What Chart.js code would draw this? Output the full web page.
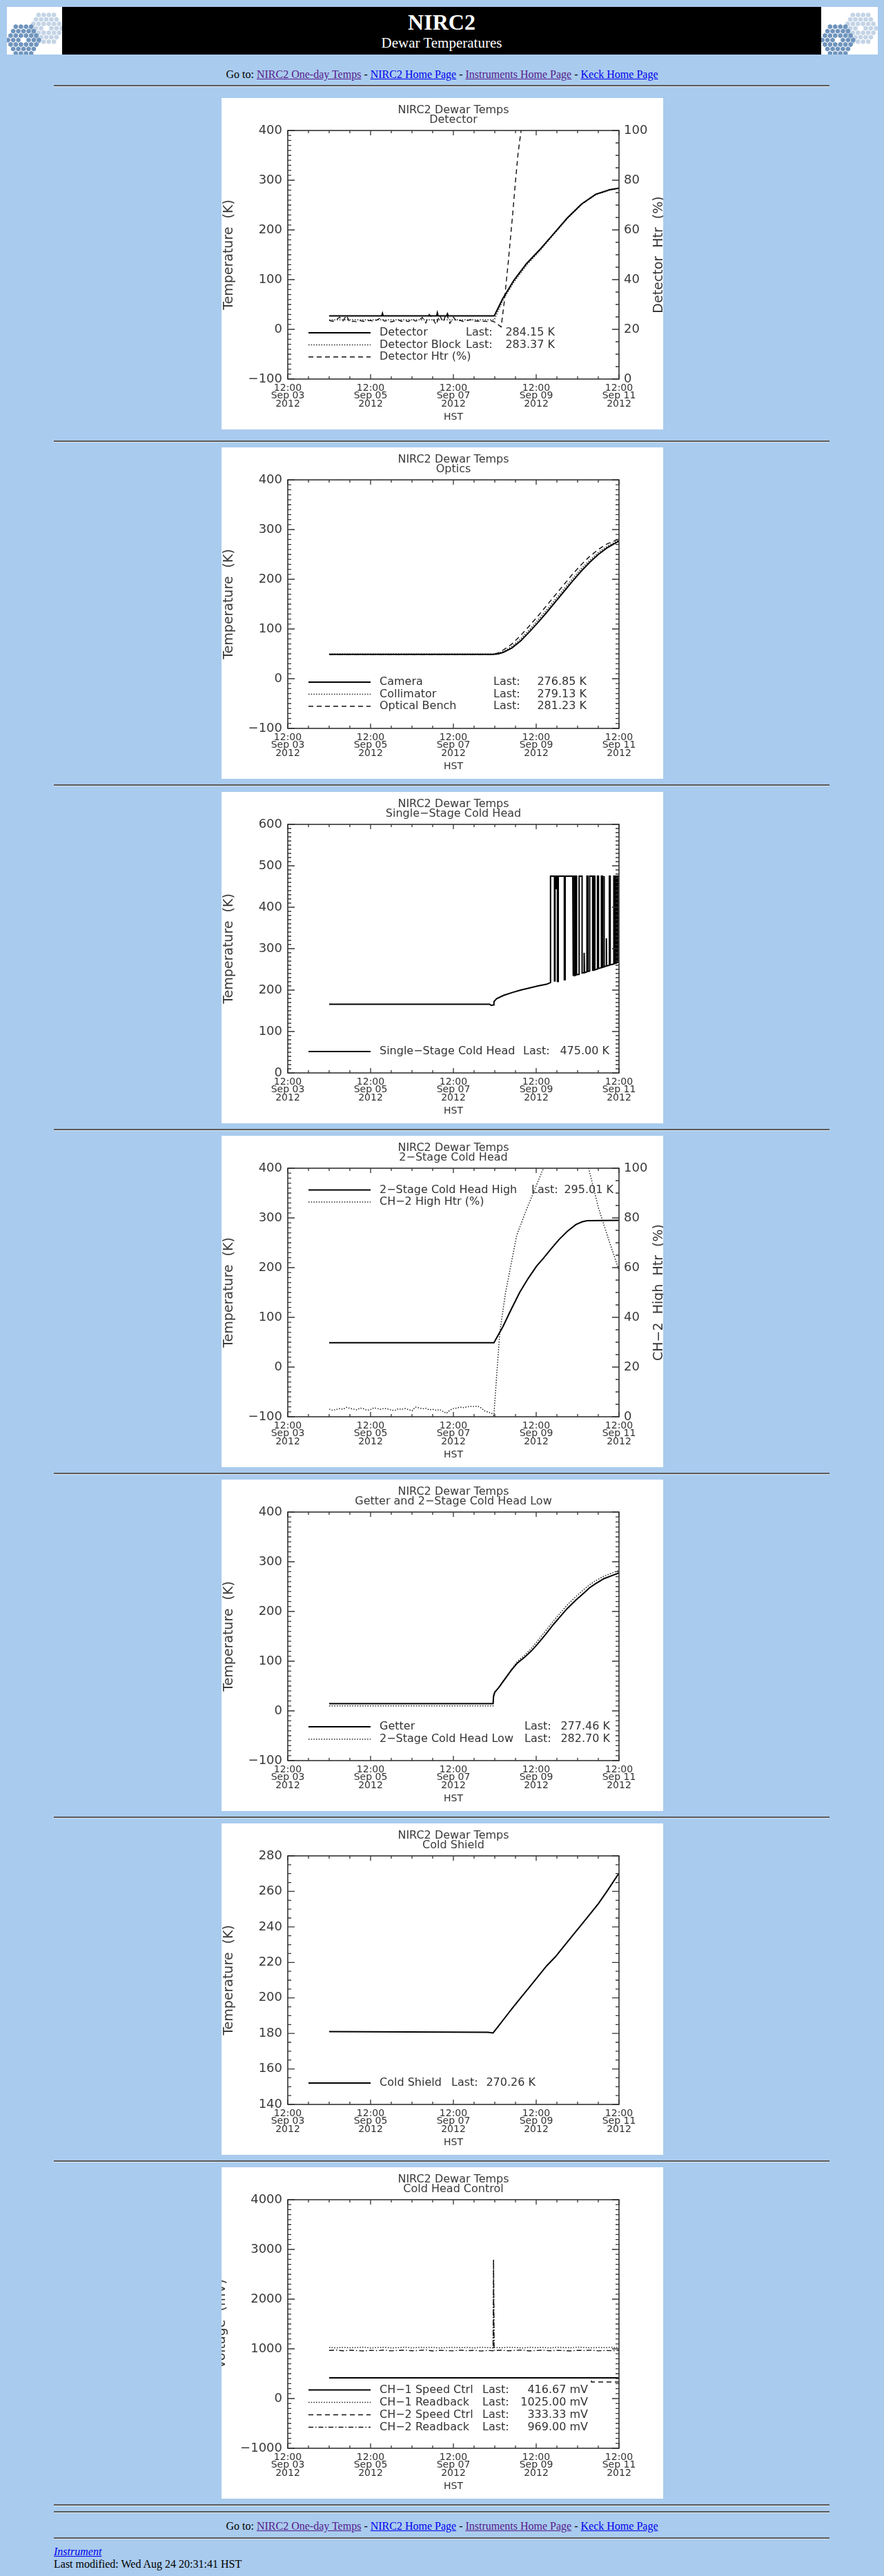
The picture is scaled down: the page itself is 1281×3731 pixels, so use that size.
<!DOCTYPE html>
<html>
<head>
<meta charset="utf-8">
<title>NIRC2 Dewar Temperatures</title>
<script src="https://cdn.jsdelivr.net/npm/chart.js@4.4.0/dist/chart.umd.min.js"></script>
<style>
  html, body { margin: 0; padding: 0; background: #a9cbee; }
  body { font-family: "Liberation Serif", "DejaVu Serif", serif; font-size: 16px; color: #000; }
  #page { position: relative; width: 1281px; height: 3731px; overflow: hidden; }
  .banner { position: absolute; left: 10px; top: 10px; width: 1262px; height: 69px; }
  .logo { position: absolute; top: 0; }
  .black { position: absolute; left: 80px; top: 0; width: 1100px; height: 69px; background: #000; color: #fff; }
  .black div { position: absolute; left: 0; width: 100%; text-align: center; }
  .line { position: absolute; left: 0; width: 1281px; text-align: center; line-height: 18px; white-space: nowrap; }
  .left { position: absolute; left: 78px; line-height: 18px; white-space: nowrap; }
  a { text-decoration: underline; }
  a.v { color: #551a8b; }
  a.n { color: #0000ee; }
  .hr { position: absolute; left: 78px; width: 1124px; height: 0; border-top: 2px solid #5a5a5a; border-bottom: 1px solid #dde6ef; }
  canvas.plot { position: absolute; left: 321px; background: #fff; }
</style>
</head>
<body>
<div id="page">
  <div class="banner">
    <canvas class="logo" id="logoL" width="80" height="69" style="left:0"></canvas>
    <div class="black">
      <div style="top:3px;font-size:32px;font-weight:bold;line-height:38px">NIRC2</div>
      <div style="top:39px;font-size:21px;line-height:26px">Dewar Temperatures</div>
    </div>
    <canvas class="logo" id="logoR" width="82" height="69" style="left:1180px"></canvas>
  </div>

  <div class="line" style="top:99px">Go to: <a class="v" href="#">NIRC2 One-day Temps</a> - <a class="n" href="#">NIRC2 Home Page</a> - <a class="v" href="#">Instruments Home Page</a> - <a class="n" href="#">Keck Home Page</a></div>
  <div class="hr" style="top:123px"></div>

  <canvas class="plot" id="c1" width="640" height="480" style="top:142px"></canvas>
  <div class="hr" style="top:638px"></div>
  <canvas class="plot" id="c2" width="640" height="480" style="top:648px"></canvas>
  <div class="hr" style="top:1136px"></div>
  <canvas class="plot" id="c3" width="640" height="480" style="top:1147px"></canvas>
  <div class="hr" style="top:1635px"></div>
  <canvas class="plot" id="c4" width="640" height="480" style="top:1645px"></canvas>
  <div class="hr" style="top:2133px"></div>
  <canvas class="plot" id="c5" width="640" height="480" style="top:2143px"></canvas>
  <div class="hr" style="top:2631px"></div>
  <canvas class="plot" id="c6" width="640" height="480" style="top:2641px"></canvas>
  <div class="hr" style="top:3129px"></div>
  <canvas class="plot" id="c7" width="640" height="480" style="top:3139px"></canvas>
  <div class="hr" style="top:3627px"></div>
  <div class="hr" style="top:3637px"></div>

  <div class="line" style="top:3650px">Go to: <a class="v" href="#">NIRC2 One-day Temps</a> - <a class="n" href="#">NIRC2 Home Page</a> - <a class="v" href="#">Instruments Home Page</a> - <a class="n" href="#">Keck Home Page</a></div>
  <div class="hr" style="top:3675px"></div>
  <div class="left" style="top:3687px"><a class="n" href="#"><i>Instrument</i></a></div>
  <div class="left" style="top:3705px">Last modified: Wed Aug 24 20:31:41 HST</div>
</div>

<script>
// ---- data (x = hours since 12:00 Sep 03 2012 HST) ----
const xDayLabels = ['Sep 03', 'Sep 05', 'Sep 07', 'Sep 09', 'Sep 11'];

// Detector
const detectorSeries = [[24, 27], [54.5, 27], [54.9, 32], [55.3, 27], [86.3, 27], [86.7, 33], [87.1, 27],
  [92.2, 27], [92.6, 31], [93.0, 27], [119.7, 27], [124.6, 61.7], [131.1, 98.9], [138.4, 132.3], [145.8, 159.3],
  [154.0, 191.8], [162.1, 224.3], [170.3, 252.2], [178.5, 271.7], [186.7, 281.0], [192, 284.15]];
const detBlockSeries = [[24, 19], [119.7, 19], [124.6, 58], [131.1, 95], [138.4, 129], [145.8, 157], [154.0, 190],
  [162.1, 223], [170.3, 251], [178.5, 270.5], [186.7, 280.2], [192, 283.37]];
const detHtrSeries = [[24, 23.6], [26, 23.2], [28, 23.8], [30, 24.9], [32, 23.4], [34, 25.6], [36, 22.8], [38, 23.3],
  [40, 23.0], [42, 23.5], [44, 23.2], [46, 23.4], [48, 23.6], [50, 23.1], [52, 23.9], [54, 24.6], [56, 23.3],
  [58, 23.5], [60, 23.0], [62, 23.4], [64, 23.8], [66, 23.2], [68, 23.5], [70, 23.1], [72, 24.2], [74, 23.3],
  [76, 23.6], [78, 24.8], [80, 22.6], [82, 26.0], [84, 24.4], [86, 21.9], [88, 25.7], [90, 23.0], [92, 26.4],
  [94, 22.4], [96, 24.9], [98, 23.2], [100, 23.6], [102, 23.1], [104, 23.5], [106, 23.9], [108, 23.2], [110, 23.4],
  [112, 23.0], [114, 23.3], [116, 23.1], [118, 23.4], [119.7, 23.0], [123.7, 21],
  [125.4, 30.5], [127.8, 47], [130.3, 65.8], [131.9, 78.8], [133.5, 90.9], [135.2, 99.7], [137, 106], [192, 110]];
const detectorLast = ['284.15 K', '283.37 K', ''];

// Optics
const cameraSeries = [[24, 49], [119, 49], [122, 50], [125, 53], [130, 62], [135, 76], [140, 94], [145, 113],
  [150, 133], [155, 154], [160, 175], [165, 196], [170, 216], [175, 234], [180, 250], [185, 263], [192, 276.85]];
const collimatorSeries = [[24, 49.5], [119, 49.5], [122, 51], [125, 55], [130, 65], [135, 80], [140, 98], [145, 118],
  [150, 138], [155, 159], [160, 180], [165, 201], [170, 221], [175, 238], [180, 254], [185, 266], [192, 279.13]];
const benchSeries = [[24, 49], [119, 49], [122, 52], [125, 58], [130, 70], [135, 87], [140, 106], [145, 126],
  [150, 147], [155, 168], [160, 189], [165, 210], [170, 229], [175, 246], [180, 260], [185, 271], [192, 281.23]];
const opticsLast = ['276.85 K', '279.13 K', '281.23 K'];

// Single-stage cold head
const singleStageSeries = [[24, 166], [117, 166], [118, 163], [119.2, 164], [119.5, 172], [121, 179], [125, 187],
  [130, 194], [135, 200], [140, 205], [145, 210], [150, 214], [152.3, 218],
  [152.3, 475], [154.6, 475], [154.6, 222], [154.9, 222], [154.9, 475], [155.4, 475], [155.4, 445], [155.7, 445],
  [155.7, 475], [156.3, 475], [156.3, 221], [156.8, 221], [156.8, 475], [160.3, 475], [160.3, 225], [160.8, 225],
  [160.8, 475], [165.2, 475], [165.2, 234], [165.6, 234], [165.6, 475], [166.3, 475], [166.3, 235], [167.0, 236],
  [167.0, 475], [167.4, 475], [167.4, 237], [168.9, 238], [168.9, 475], [170.6, 475], [170.6, 241], [171.8, 242],
  [171.8, 290], [172.0, 242], [173.4, 244], [173.4, 475], [174.0, 475], [174.0, 245], [175.0, 246], [175.0, 475],
  [176.7, 475], [176.7, 248], [177.4, 248], [177.4, 475], [178.0, 475], [178.0, 249], [179.5, 251], [179.5, 475],
  [180.1, 475], [180.1, 252], [181.8, 254], [181.8, 475], [182.5, 475], [182.5, 255], [183.2, 256], [183.2, 475],
  [183.5, 475], [183.5, 257], [184.7, 258], [184.7, 325], [184.8, 258], [186.4, 260], [186.4, 475], [186.9, 475],
  [186.9, 261], [189.0, 263], [189.0, 475], [189.6, 475], [189.6, 264], [190.2, 265], [190.2, 475], [190.8, 475],
  [190.8, 266], [191.4, 267], [191.4, 475], [192, 475]];
const singleStageLast = ['475.00 K'];

// 2-stage cold head high
const twoStageHighSeries = [[24, 49], [119.5, 49], [124.6, 80.6], [129.5, 116], [134.4, 150], [139.3, 178],
  [144.2, 203], [148.2, 219], [152.7, 238], [157.2, 256.5], [162, 273], [167, 286.6], [170.5, 292], [173.5, 294.5],
  [192, 295.01]];
const ch2HighHtrSeries = [[24, 3.1], [26, 2.6], [28, 2.9], [30, 3.3], [32, 3.0], [34, 3.8], [36, 3.4], [38, 3.1],
  [40, 2.8], [42, 3.5], [44, 3.2], [46, 2.6], [48, 2.9], [50, 3.6], [52, 3.3], [54, 3.0], [56, 3.4], [58, 3.1],
  [60, 2.7], [62, 2.5], [64, 3.2], [66, 3.0], [68, 3.3], [70, 2.9], [72, 2.4], [74, 3.9], [76, 3.6], [78, 3.2],
  [80, 3.4], [82, 2.8], [84, 3.0], [86, 2.6], [88, 2.9], [90, 2.1], [92, 1.4], [94, 2.7], [96, 3.3], [98, 3.5],
  [100, 3.9], [102, 3.7], [104, 4.0], [106, 4.2], [108, 4.1], [110, 4.3], [112, 3.6], [114, 2.4], [116, 1.9],
  [117.5, 1.6], [118.7, 1.2], [119.5, 0.5], [119.9, 5], [122.9, 34], [126.2, 49.8], [132.7, 73], [137.6, 82],
  [145.8, 96], [148.2, 100], [152, 103], [170, 103], [174.4, 100], [180.1, 84], [186.6, 70], [192, 59]];
const twoStageLast = ['295.01 K', ''];

// Getter and 2-stage cold head low
const getterSeries = [[24, 14.7], [119, 14.7], [119.3, 30], [120, 38], [122.1, 46], [125, 60], [129.5, 81.5],
  [133, 96], [137.6, 109], [141, 120], [144.2, 132], [149, 152], [154, 174], [158, 190], [162, 206], [167, 223],
  [171.9, 238], [175, 248], [178.5, 256], [183.3, 266], [187, 271], [192, 277.46]];
const coldHeadLowSeries = [[24, 10], [119, 10], [119.3, 28], [120, 37], [122.1, 46], [125, 61], [129.5, 83],
  [133, 99], [137.6, 113], [141, 125], [144.2, 138], [149, 159], [154, 181], [158, 197], [162, 213], [167, 230],
  [171.9, 245], [175, 254], [178.5, 262], [183.3, 271], [187, 276], [192, 282.70]];
const getterLast = ['277.46 K', '282.70 K'];

// Cold shield
const coldShieldSeries = [[24, 181], [116, 180.6], [119, 180.3], [122, 184], [126, 189], [130, 194], [135, 200],
  [140, 206], [145, 212], [150, 218], [155, 223], [160, 229], [165, 235], [170, 241], [175, 247], [180, 253],
  [185, 260], [192, 270.26]];
const coldShieldLast = ['270.26 K'];

// Cold head control (mV)
const ch1SpeedSeries = [[24, 416.67], [192, 416.67]];
const ch1ReadSeries = [[24, 1028], [28, 1019], [32, 1031], [36, 1022], [40, 1026], [44, 1034], [48, 1018],
  [52, 1027], [56, 1030], [60, 1021], [64, 1025], [68, 1033], [72, 1020], [76, 1029], [80, 1024], [84, 1031],
  [88, 1017], [92, 1026], [96, 1030], [100, 1022], [104, 1028], [108, 1019], [112, 1032], [116, 1025], [119, 1020],
  [119.3, 2790], [119.6, 1030], [120, 1026], [124, 1021], [128, 1033], [132, 1027], [136, 1019], [140, 1030],
  [144, 1024], [148, 1029], [152, 1018], [156, 1031], [160, 1026], [164, 1022], [168, 1034], [172, 1027],
  [176, 1020], [180, 1029], [184, 1023], [188, 1031], [192, 1025]];
const ch2SpeedSeries = [[24, 416.67], [176, 416.67], [176, 333.33], [192, 333.33]];
const ch2ReadSeries = [[24, 968], [28, 975], [32, 961], [36, 972], [40, 966], [44, 958], [48, 970], [52, 964],
  [56, 976], [60, 960], [64, 969], [68, 973], [72, 962], [76, 967], [80, 979], [84, 958], [88, 971], [92, 965],
  [96, 960], [100, 974], [104, 963], [108, 970], [112, 957], [116, 968], [119, 962], [119.3, 2810], [119.6, 975],
  [120, 966], [124, 972], [128, 961], [132, 969], [136, 976], [140, 959], [144, 967], [148, 973], [152, 962],
  [156, 970], [160, 965], [164, 958], [168, 971], [172, 966], [176, 974], [180, 960], [184, 968], [188, 963],
  [192, 969]];
const controlLast = ['416.67 mV', '1025.00 mV', '333.33 mV', '969.00 mV'];

// ---- line styles ----
const SOLID = { borderColor: '#000', borderWidth: 2, borderDash: [] };
const DOTTED = { borderColor: '#222', borderWidth: 1.5, borderDash: [1.5, 2.2] };
const DASHED = { borderColor: '#111', borderWidth: 1.4, borderDash: [7, 5] };
const DASHDOT = { borderColor: '#111', borderWidth: 1.4, borderDash: [7, 3, 1.5, 3] };

Chart.defaults.font.family = '"DejaVu Sans", sans-serif';
Chart.defaults.color = '#3a3a3a';

const minus = v => (v < 0 ? '\u2212' + Math.abs(v) : String(v));

const serie = (label, pairs, style, axis) => ({
  label,
  data: pairs.map(([x, y]) => ({ x, y })),
  ...style,
  yAxisID: axis || 'y',
  pointRadius: 0,
  fill: false,
  tension: 0
});

// inward IDL style ticks + frame
const idlFrame = {
  id: 'idlFrame',
  afterDatasetsDraw(chart, args, o) {
    const { ctx, chartArea: a, scales } = chart;
    const x = scales.x, y = scales.y;
    ctx.save();
    ctx.setLineDash([]);
    ctx.strokeStyle = '#333';
    ctx.lineWidth = 1.6;
    ctx.strokeRect(a.left, a.top, a.width, a.height);
    ctx.lineWidth = 1.3;
    ctx.beginPath();
    for (let i = 0; ; i++) {
      const v = x.min + i * o.xMinor;
      if (v > x.max + 1e-6) break;
      const px = x.getPixelForValue(v);
      const len = Math.abs(Math.round(v / o.xMajor) * o.xMajor - v) < 1e-6 ? 7 : 4;
      ctx.moveTo(px, a.bottom); ctx.lineTo(px, a.bottom - len);
      ctx.moveTo(px, a.top); ctx.lineTo(px, a.top + len);
    }
    const side = (s, minor, major, edge, dir) => {
      for (let i = 0; ; i++) {
        const v = s.min + i * minor;
        if (v > s.max + 1e-6) break;
        const py = s.getPixelForValue(v);
        const len = Math.abs(Math.round(v / major) * major - v) < 1e-6 ? 10 : 5;
        ctx.moveTo(edge, py); ctx.lineTo(edge + dir * len, py);
      }
    };
    side(y, o.yMinor, o.yMajor, a.left, 1);
    if (scales.y1) side(scales.y1, o.rMinor, o.rMajor, a.right, -1);
    else side(y, o.yMinor, o.yMajor, a.right, -1);
    ctx.stroke();
    ctx.restore();
  }
};

// legend inside plot and right axis title
const idlLegend = {
  id: 'idlLegend',
  afterDraw(chart, args, o) {
    const { ctx, chartArea: a } = chart;
    ctx.save();
    ctx.font = '16px "DejaVu Sans"';
    ctx.textBaseline = 'middle';
    chart.data.datasets.forEach((ds, i) => {
      const yy = o.rows[i];
      ctx.strokeStyle = ds.borderColor;
      ctx.lineWidth = ds.borderWidth;
      ctx.setLineDash(ds.borderDash);
      ctx.beginPath();
      ctx.moveTo(a.left + 30, yy);
      ctx.lineTo(a.left + 120, yy);
      ctx.stroke();
      ctx.fillStyle = '#333';
      ctx.textAlign = 'left';
      ctx.fillText(ds.label, a.left + 133, yy);
      if (o.lasts[i]) {
        ctx.fillText('Last:', o.lastX, yy);
        ctx.textAlign = 'right';
        ctx.fillText(o.lasts[i], o.rightX, yy);
      }
    });
    if (o.rightTitle) {
      ctx.setLineDash([]);
      ctx.font = '19px "DejaVu Sans"';
      ctx.fillStyle = '#3a3a3a';
      ctx.textAlign = 'center';
      ctx.textBaseline = 'alphabetic';
      ctx.translate(chart.width - 1, (a.top + a.bottom) / 2);
      ctx.rotate(-Math.PI / 2);
      ctx.fillText(o.rightTitle, 0, 0);
    }
    ctx.restore();
  }
};

function idlChart(id, c) {
  const scales = {
    x: {
      type: 'linear', min: 0, max: 192,
      afterFit: s => { s.height = 73; },
      grid: { display: false, drawTicks: false }, border: { display: false },
      ticks: {
        stepSize: 48, autoSkip: false, maxRotation: 0, minRotation: 0, padding: 8,
        font: { size: 14, lineHeight: 0.8 }, color: '#333',
        callback: v => ['12:00', xDayLabels[Math.round(v / 48)], '2012']
      },
      title: { display: true, text: 'HST', font: { size: 14 }, color: '#333', padding: { top: 0, bottom: 9 } }
    },
    y: {
      type: 'linear', position: 'left', min: c.yMin, max: c.yMax,
      afterFit: s => { s.width = 96; },
      grid: { display: false, drawTicks: false }, border: { display: false },
      ticks: { stepSize: c.yMajor, font: { size: 18 }, padding: 8, callback: minus },
      title: { display: true, text: c.yTitle, font: { size: 19 }, padding: { top: c.yTitlePad, bottom: 0 } }
    }
  };
  if (c.right) {
    scales.y1 = {
      type: 'linear', position: 'right', min: 0, max: 100,
      afterFit: s => { s.width = 64; },
      grid: { display: false, drawTicks: false }, border: { display: false },
      ticks: { stepSize: 20, font: { size: 18 }, padding: 7 }
    };
  }
  new Chart(document.getElementById(id), {
    type: 'line',
    data: { datasets: c.datasets },
    options: {
      responsive: false,
      animation: false,
      scales,
      layout: { padding: { right: c.right ? 0 : 64 } },
      plugins: {
        legend: { display: false },
        tooltip: { enabled: false },
        title: {
          display: true, fullSize: false, text: ['NIRC2 Dewar Temps', c.title],
          font: { size: 16, weight: 'normal', lineHeight: 0.875 }, padding: { top: 11, bottom: 8 }
        },
        idlFrame: { xMinor: 12, xMajor: 48, yMinor: c.yMinor, yMajor: c.yMajor, rMinor: 5, rMajor: 20 },
        idlLegend: { rows: c.rows, lasts: c.lasts, lastX: c.lastX, rightX: c.rightX, rightTitle: c.right }
      }
    },
    plugins: [idlFrame, idlLegend]
  });
}

idlChart('c1', {
  title: 'Detector', yTitle: 'Temperature  (K)', yTitlePad: 0, yMin: -100, yMax: 400, yMajor: 100, yMinor: 10,
  right: 'Detector  Htr  (%)',
  datasets: [
    serie('Detector', detectorSeries, SOLID),
    serie('Detector Block', detBlockSeries, DOTTED),
    serie('Detector Htr (%)', detHtrSeries, DASHED, 'y1')
  ],
  rows: [340, 357.5, 375], lasts: detectorLast, lastX: 354, rightX: 483
});

idlChart('c2', {
  title: 'Optics', yTitle: 'Temperature  (K)', yTitlePad: 0, yMin: -100, yMax: 400, yMajor: 100, yMinor: 10,
  datasets: [
    serie('Camera', cameraSeries, SOLID),
    serie('Collimator', collimatorSeries, DOTTED),
    serie('Optical Bench', benchSeries, DASHED)
  ],
  rows: [340, 357.5, 375], lasts: opticsLast, lastX: 394, rightX: 529
});

idlChart('c3', {
  title: 'Single\u2212Stage Cold Head', yTitle: 'Temperature  (K)', yTitlePad: 0, yMin: 0, yMax: 600, yMajor: 100, yMinor: 10,
  datasets: [serie('Single\u2212Stage Cold Head', singleStageSeries, SOLID)],
  rows: [376], lasts: singleStageLast, lastX: 437, rightX: 562
});

idlChart('c4', {
  title: '2\u2212Stage Cold Head', yTitle: 'Temperature  (K)', yTitlePad: 0, yMin: -100, yMax: 400, yMajor: 100, yMinor: 10,
  right: 'CH\u22122  High  Htr  (%)',
  datasets: [
    serie('2\u2212Stage Cold Head High', twoStageHighSeries, SOLID),
    serie('CH\u22122 High Htr (%)', ch2HighHtrSeries, DOTTED, 'y1')
  ],
  rows: [78.5, 96], lasts: twoStageLast, lastX: 449, rightX: 568
});

idlChart('c5', {
  title: 'Getter and 2\u2212Stage Cold Head Low', yTitle: 'Temperature  (K)', yTitlePad: 0, yMin: -100, yMax: 400, yMajor: 100, yMinor: 10,
  datasets: [
    serie('Getter', getterSeries, SOLID),
    serie('2\u2212Stage Cold Head Low', coldHeadLowSeries, DOTTED)
  ],
  rows: [358, 376], lasts: getterLast, lastX: 439, rightX: 563
});

idlChart('c6', {
  title: 'Cold Shield', yTitle: 'Temperature  (K)', yTitlePad: 0, yMin: 140, yMax: 280, yMajor: 20, yMinor: 5,
  datasets: [serie('Cold Shield', coldShieldSeries, SOLID)],
  rows: [376], lasts: coldShieldLast, lastX: 333, rightX: 455
});

idlChart('c7', {
  title: 'Cold Head Control', yTitle: 'Voltage  (mV)', yTitlePad: -11, yMin: -1000, yMax: 4000, yMajor: 1000, yMinor: 100,
  datasets: [
    serie('CH\u22121 Speed Ctrl', ch1SpeedSeries, SOLID),
    serie('CH\u22121 Readback', ch1ReadSeries, DOTTED),
    serie('CH\u22122 Speed Ctrl', ch2SpeedSeries, DASHED),
    serie('CH\u22122 Readback', ch2ReadSeries, DASHDOT)
  ],
  rows: [322.5, 340.5, 358.5, 376.5], lasts: controlLast, lastX: 378, rightX: 531
});

// Keck logos either side of the banner
function drawKeckLogo(canvas) {
  const g = canvas.getContext('2d');
  g.fillStyle = '#fff';
  g.fillRect(0, 0, canvas.width, canvas.height);
  const mirror = (cx, cy, color) => {
    const rs = 4.3, w = rs * Math.sqrt(3);
    g.fillStyle = color;
    for (let q = -3; q <= 3; q++) {
      for (let r = -3; r <= 3; r++) {
        if (Math.abs(q + r) > 3 || (q === 0 && r === 0)) continue;
        const hx = cx + w * (q + r / 2), hy = cy + rs * 1.5 * r;
        g.beginPath();
        for (let k = 0; k < 6; k++) {
          const ang = Math.PI / 6 + k * Math.PI / 3;
          g.lineTo(hx + (rs - 0.6) * Math.cos(ang), hy + (rs - 0.6) * Math.sin(ang));
        }
        g.fill();
      }
    }
  };
  mirror(57, 31, '#c4d4e6');
  mirror(24, 48, '#6f94bd');
}
drawKeckLogo(document.getElementById('logoL'));
drawKeckLogo(document.getElementById('logoR'));
</script>
</body>
</html>
